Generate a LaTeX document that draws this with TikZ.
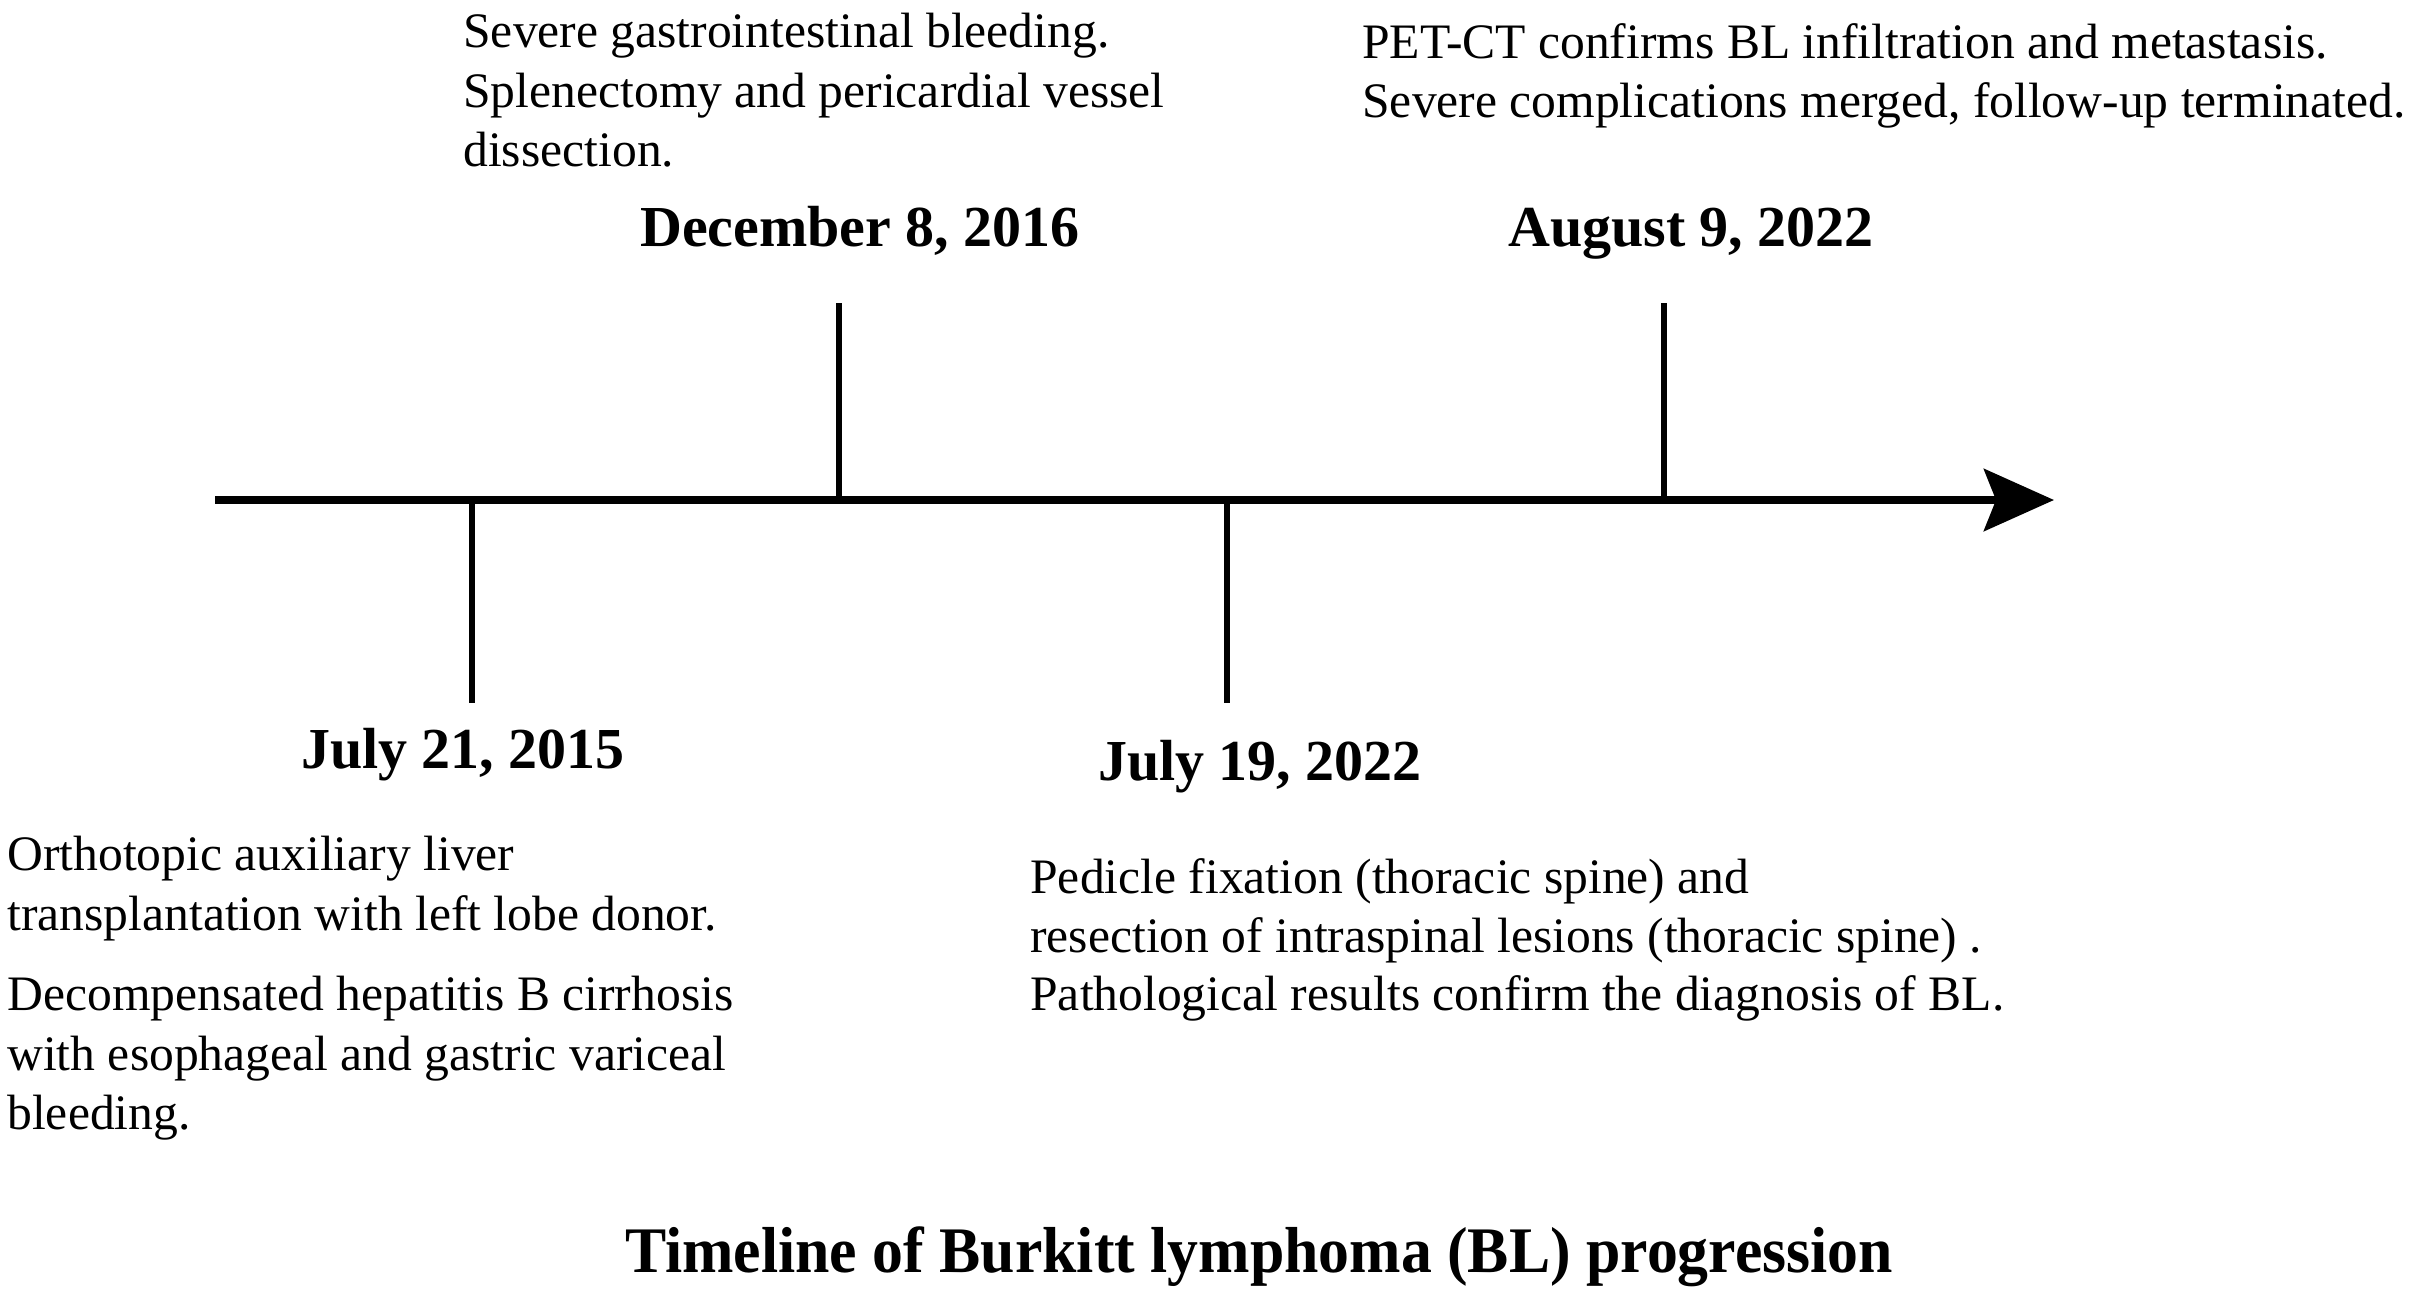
\documentclass[tikz,border=0pt]{standalone}
\usepackage{graphicx}
\usepackage{fontspec}
\setmainfont{Liberation Serif}
\usetikzlibrary{arrows.meta}
\begin{document}
\begin{tikzpicture}[x=0.5pt,y=-0.5pt,
  body/.style={anchor=base west,inner sep=0pt,font=\fontsize{24.8}{30}\selectfont},
  datelbl/.style={anchor=base,inner sep=0pt,font=\fontsize{29}{35}\selectfont\bfseries},
  titlelbl/.style={anchor=base,inner sep=0pt,font=\fontsize{32.5}{39}\selectfont\bfseries},
  axisline/.style={line width=4pt,-{Stealth[length=35pt,width=31pt,inset=6pt]}},
  tickline/.style={line width=3pt}]
\useasboundingbox (0,0) rectangle (2413,1296);
% axis
\coordinate (axL) at (215,500);
\coordinate (axR) at (2054,500);
% ticks
\coordinate (t1a) at (472,500);  \coordinate (t1b) at (472,703);
\coordinate (t2a) at (839,500);  \coordinate (t2b) at (839,303);
\coordinate (t3a) at (1227,500); \coordinate (t3b) at (1227,703);
\coordinate (t4a) at (1664,500); \coordinate (t4b) at (1664,303);
\draw[tickline] (t1a) -- (t1b);
\draw[tickline] (t2a) -- (t2b);
\draw[tickline] (t3a) -- (t3b);
\draw[tickline] (t4a) -- (t4b);
\draw[axisline] (axL) -- (axR);
% dates
\node[datelbl] (d1) at (463,768) {July 21, 2015};
\node[datelbl] (d2) at (860,246) {December 8, 2016};
\node[datelbl] (d3) at (1260,780) {July 19, 2022};
\node[datelbl] (d4) at (1691,246) {August 9, 2022};
% top-left
\node[body] (a1) at (463,47) {Severe gastrointestinal bleeding.};
\node[body] (a2) at (463,107) {Splenectomy and pericardial vessel};
\node[body] (a3) at (463,166) {dissection.};
% top-right
\node[body] (b1) at (1362,58) {PET-CT confirms BL infiltration and metastasis.};
\node[body] (b2) at (1362,117) {Severe complications merged, follow-up terminated.};
% bottom-left
\node[body] (c1) at (7,870) {Orthotopic auxiliary liver};
\node[body] (c2) at (7,930) {transplantation with left lobe donor.};
\node[body] (c3) at (7,1010) {Decompensated hepatitis B cirrhosis};
\node[body] (c4) at (7,1070) {with esophageal and gastric variceal};
\node[body] (c5) at (7,1129) {bleeding.};
% bottom-middle
\node[body] (e1) at (1030,893) {Pedicle fixation (thoracic spine) and};
\node[body] (e2) at (1030,952) {resection of intraspinal lesions (thoracic spine) .};
\node[body] (e3) at (1030,1010) {Pathological results confirm the diagnosis of BL.};
% title
\node[titlelbl] (title) at (1259,1272) {\scalebox{0.95}[1]{Timeline of Burkitt lymphoma (BL) progression}};
\end{tikzpicture}
\end{document}
